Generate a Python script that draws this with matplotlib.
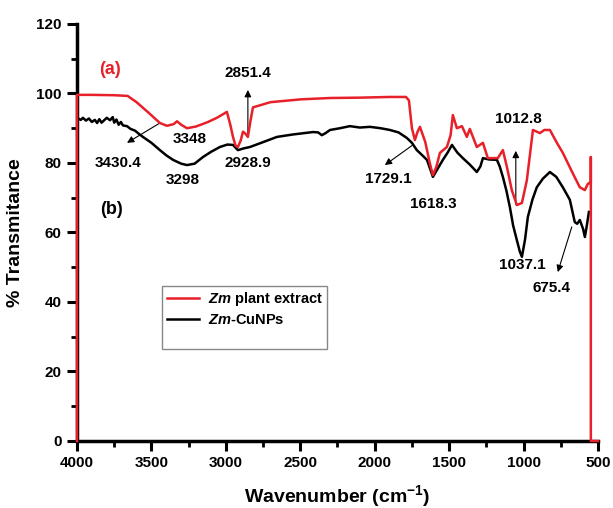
import matplotlib
matplotlib.use("Agg")
import matplotlib.pyplot as plt
from matplotlib.lines import Line2D

plt.rcParams['font.family'] = ['Liberation Sans', 'DejaVu Sans']
plt.rcParams['font.weight'] = 'bold'
plt.rcParams['mathtext.fontset'] = 'custom'
plt.rcParams['mathtext.rm'] = 'Liberation Sans:bold'
plt.rcParams['mathtext.it'] = 'Liberation Sans:bold:italic'
plt.rcParams['mathtext.bf'] = 'Liberation Sans:bold'

# Zm plant extract (red)
wn_red = [4000, 4000, 3900, 3750, 3660, 3600, 3520, 3443, 3396, 3350, 3328, 3300, 3261,
          3200, 3120, 3060, 2993, 2970, 2952, 2935, 2919, 2900, 2885, 2870, 2852, 2835,
          2818, 2700, 2500, 2300, 2100, 1900, 1790, 1770, 1750, 1730, 1712, 1696, 1660,
          1630, 1609, 1585, 1562, 1515, 1490, 1475, 1448, 1414, 1381, 1361, 1314, 1273,
          1240, 1173, 1139, 1112, 1079, 1045, 1011, 978, 937, 890, 860, 823, 776, 736,
          669, 622, 588, 568, 548, 548, 548, 500]
t_red = [0, 99.6, 99.6, 99.5, 99.3, 97.5, 94.5, 91.5, 90.7, 91.2, 92, 91, 90,
         90.5, 91.8, 93, 94.7, 91, 87.5, 85, 84.6, 86.5, 89, 88.5, 87.5, 92,
         96, 97.5, 98.3, 98.7, 98.8, 99, 99, 98, 90, 86.6, 89, 90.4, 86,
         80, 76.5, 79, 82.9, 84.6, 88, 93.8, 90, 90.6, 87.5, 89.8, 84.6, 85.8,
         81.4, 81.4, 83.7, 78.9, 72.2, 67.9, 68.5, 75, 89.5, 88.6, 89.5, 89.5, 85.8, 82.9,
         77, 73, 72.2, 74, 74.5, 81.7, 0, 0]

# Zm-CuNPs (black)
wn_blk = [4000, 3975, 3960, 3940, 3920, 3900, 3880, 3865, 3850, 3835, 3820, 3800, 3778,
          3760, 3750, 3735, 3720, 3705, 3691, 3664, 3640, 3610, 3585, 3557,
          3500, 3443, 3400, 3355, 3300, 3261, 3210, 3154, 3100, 3040, 2990, 2952, 2919,
          2880, 2838, 2750, 2657, 2550, 2415, 2380, 2355, 2330, 2300, 2234, 2167, 2100,
          2032, 1960, 1898, 1840, 1784, 1750, 1717, 1680, 1649, 1625, 1609, 1575, 1542,
          1510, 1481, 1445, 1408, 1360, 1314, 1290, 1273, 1230, 1179, 1160, 1139, 1115,
          1092, 1070, 1045, 1025, 1011, 990, 971, 940, 911, 870, 823, 780, 736, 689,
          656, 640, 622, 600, 588, 575, 561]
t_blk = [93, 92.4, 93, 92.2, 92.8, 91.8, 92.4, 91.5, 92.6, 91.6, 92.2, 93, 92.3,
         93.2, 91.6, 92.5, 91, 91.8, 90.8, 90.6, 89.8, 89.3, 88.4, 87.5,
         85.8, 83.7, 82.2, 80.9, 79.8, 79.4, 79.8, 81.7, 83.2, 84.6, 85.3, 85.2, 83.7,
         84.2, 84.6, 86, 87.5, 88.2, 88.9, 88.8, 88, 88.6, 89.5, 90, 90.6, 90.2,
         90.4, 90, 89.5, 88.8, 87.2, 85.8, 83.7, 82.2, 80.9, 78, 76, 78.5, 80.9,
         83, 85.2, 83, 81.4, 79.5, 77.4, 79, 81.4, 81, 80.9, 79, 76, 72,
         67.3, 62, 57.8, 54.5, 53, 58, 64.5, 69.5, 73, 75.5, 77.4, 76, 73, 69.4,
         63, 62.5, 63.6, 61, 58.7, 62, 65.9]

# peak labels: text, text position, arrow (tail, head)
peak_labels = ["3430.4", "3348", "3298", "2851.4", "2928.9", "1729.1", "1618.3",
               "1012.8", "1037.1", "675.4"]
label_pos = [(3725, 80), (3241, 87), (3288, 75), (2852, 106), (2852, 80), (1911, 75.4),
             (1609, 68.2), (1038, 92.7), (1011, 50.6), (810, 44)]
arrows = {"3430.4": ((3443, 91.5), (3664, 85.8)),
          "2851.4": ((2852, 88), (2852, 101)),
          "1729.1": ((1750, 85), (1932, 79.4)),
          "1012.8": ((1052, 68), (1052, 83.5)),
          "675.4": ((676, 61.6), (770, 48.6))}

red = '#e8202a'

fig = plt.figure(figsize=(6.13, 5.08), dpi=100)
ax = fig.add_axes([0.1256, 0.1319, 0.8499, 0.8209])

ax.plot(wn_blk, t_blk, color='black', lw=1.8, zorder=3)
ax.plot(wn_red, t_red, color=red, lw=1.8, zorder=4, clip_on=False)

ax.set_xlim(4000, 500)
ax.set_ylim(0, 120)
ax.set_xticks(range(4000, 499, -500))
ax.set_xticks(range(3750, 500, -500), minor=True)
ax.set_yticks(range(0, 121, 20))
ax.set_yticks(range(10, 120, 20), minor=True)

for s in ['top', 'right']:
    ax.spines[s].set_visible(False)
for s in ['left', 'bottom']:
    ax.spines[s].set_linewidth(2.5)
ax.tick_params(which='major', direction='out', length=7, width=2.2, labelsize=11, pad=4)
ax.tick_params(which='minor', direction='out', length=4, width=2)
for lab in ax.get_xticklabels() + ax.get_yticklabels():
    lab.set_fontweight('bold')

ax.set_xlabel(r"Wavenumber (cm$^{-1}$)", fontsize=14, fontweight='bold', labelpad=9)
ax.set_ylabel("% Transmitance", fontsize=14, fontweight='bold', labelpad=9)

for txt, (x, y) in zip(peak_labels, label_pos):
    ax.text(x, y, txt, fontsize=11, fontweight='bold', ha='center', va='center')
    if txt in arrows:
        tail, head = arrows[txt]
        ax.annotate("", xy=head, xytext=tail,
                    arrowprops=dict(arrowstyle='-|>', color='black', lw=0.8,
                                    mutation_scale=10, shrinkA=0, shrinkB=0))

ax.text(3780, 107, "(a)", color=red, fontsize=13, fontweight='bold', ha='center', va='center')
ax.text(3770, 66.5, "(b)", color='black', fontsize=13, fontweight='bold', ha='center', va='center')

handles = [Line2D([], [], color=red, lw=1.8),
           Line2D([], [], color='black', lw=1.8),
           Line2D([], [], color='none')]
leg = ax.legend(handles, ["$Zm$ plant extract", "$Zm$-CuNPs", " "],
                loc='upper left', bbox_to_anchor=(0.164, 0.372), fancybox=False,
                framealpha=1, edgecolor='#888888', fontsize=10.5, handlelength=2.2,
                borderpad=0.3, labelspacing=0.3, handletextpad=0.6, borderaxespad=0)
leg.get_frame().set_linewidth(1.0)
for t in leg.get_texts():
    t.set_fontweight('bold')

fig.savefig("out.png", dpi=100)
